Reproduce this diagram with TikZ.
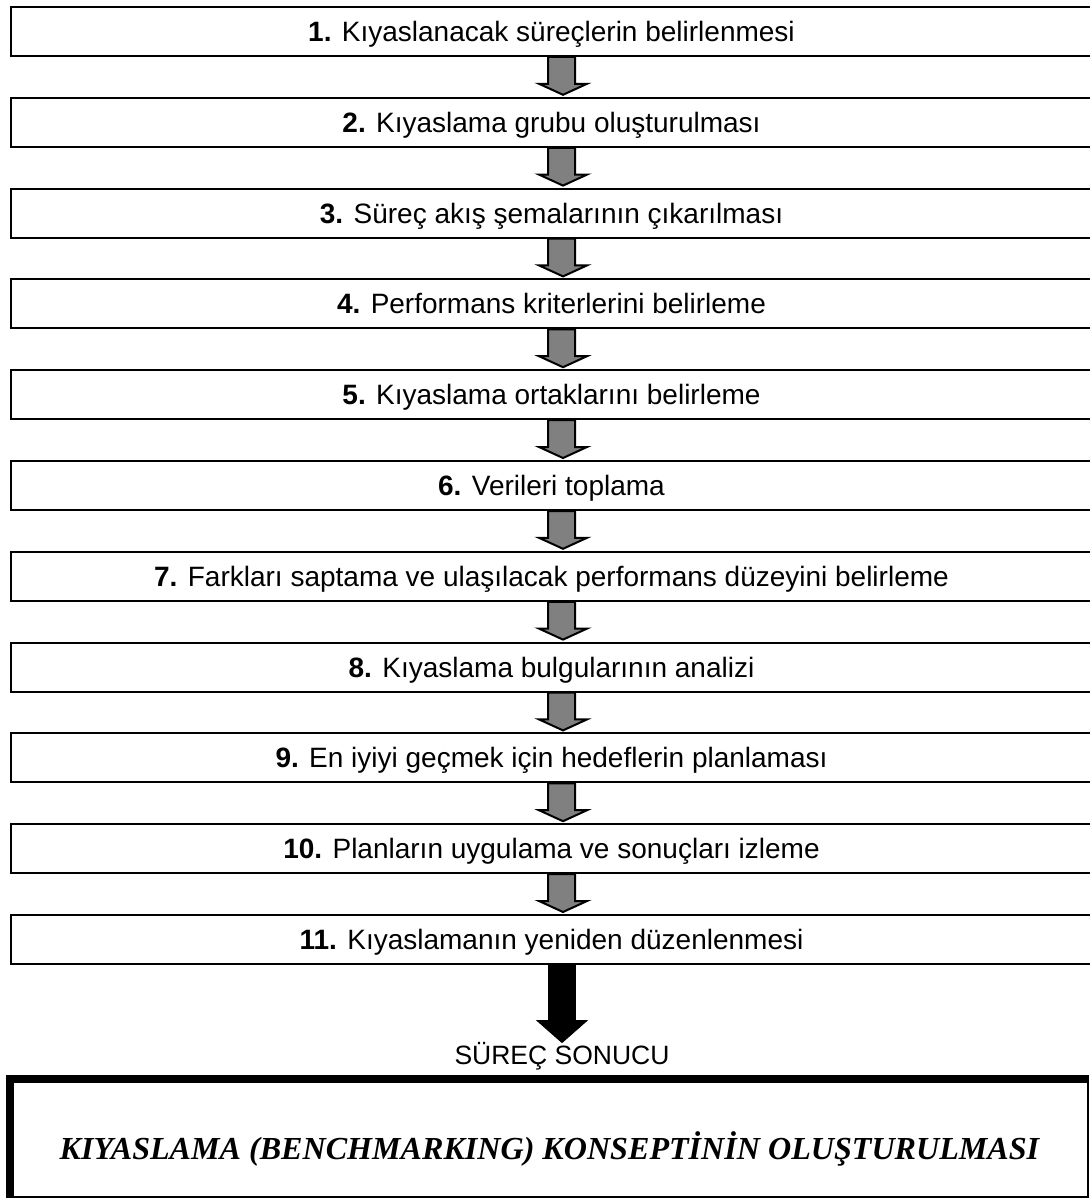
\documentclass[tikz,border=0pt]{standalone}
\usepackage{fontspec}
\setmainfont{Liberation Sans}
\newfontfamily\timesbi{Liberation Serif}
\usetikzlibrary{calc, positioning}

\begin{document}
\begin{tikzpicture}[x=0.5pt, y=-0.5pt,
    kutu/.style={draw, line width=1pt, minimum width=540.5pt, minimum height=24.5pt, inner sep=0pt,
        text height=10pt, text depth=0pt, font=\fontsize{14}{16}\selectfont},
    okgri/.style={draw=black, line width=1pt, fill=gray, line join=miter}]
\useasboundingbox (0,0) rectangle (1089,1198);
\foreach \t [count=\i] in {Kıyaslanacak süreçlerin belirlenmesi, Kıyaslama grubu oluşturulması,
    Süreç akış şemalarının çıkarılması, Performans kriterlerini belirleme,
    Kıyaslama ortaklarını belirleme, Verileri toplama,
    Farkları saptama ve ulaşılacak performans düzeyini belirleme, Kıyaslama bulgularının analizi,
    En iyiyi geçmek için hedeflerin planlaması, Planların uygulama ve sonuçları izleme,
    Kıyaslamanın yeniden düzenlenmesi}
{
    \node[kutu] (s\i) at (551.5,{31.5+90.8*(\i-1)}) {\textbf{\i.} \t};
}
\foreach \i [evaluate=\i as \j using int(\i+1)] in {1,...,10}
    \draw[okgri] ($(s\i.south)+(-3.5,0)$) -- ($(s\j.north)+(-3.5,-13)$) -- ($(s\j.north)+(-12.5,-13)$)
        -- ($(s\j.north)+(11.5,-2)$) -- ($(s\j.north)+(35.5,-13)$) -- ($(s\j.north)+(23.5,-13)$)
        -- ($(s\i.south)+(23.5,0)$) -- cycle;
\node[inner sep=0pt, text height=9.5pt, text depth=0pt, font=\fontsize{13.25}{15}\selectfont]
    (sonuc) at ($(s11.south)+(10.5,89.5)$) {SÜREÇ SONUCU};
\draw[fill=black] ($(s11.south)+(-3,0)$) -- ($(sonuc.north)+(-13.5,-24)$) -- ($(sonuc.north)+(-25,-24)$)
    -- ($(sonuc.north)+(0,-2)$) -- ($(sonuc.north)+(25,-24)$) -- ($(sonuc.north)+(13.5,-24)$)
    -- ($(s11.south)+(24,0)$) -- cycle;
\node[draw, line width=0.75pt, minimum width=538.5pt, minimum height=58.75pt, inner sep=0pt]
    (konsept) at (549.5,1138.25) {};
\draw[line width=4pt] (konsept.south west) -- (konsept.north west) -- (konsept.north east);
\node[inner sep=0pt, text height=10.6pt, text depth=0pt, font=\timesbi\bfseries\itshape\fontsize{16.05}{19}\selectfont]
    (baslik) at ($(konsept.center)+(0,11)$) {KIYASLAMA (BENCHMARKING) KONSEPTİNİN OLUŞTURULMASI};
\end{tikzpicture}
\end{document}
